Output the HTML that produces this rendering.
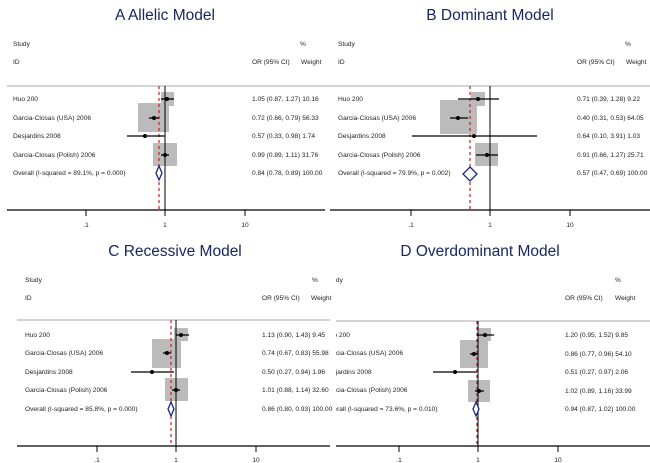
<!DOCTYPE html>
<html><head><meta charset="utf-8"><style>
html,body{margin:0;padding:0;background:#fff;}
svg{display:block;}
text{font-family:"Liberation Sans",sans-serif;}
.s{font-size:6.6px;fill:#222;}
.t{font-size:15.5px;fill:#1a2660;}
</style></head><body>
<svg width="650" height="463" viewBox="0 0 650 463" xmlns="http://www.w3.org/2000/svg">
<defs><clipPath id="cd"><rect x="336" y="230" width="314" height="233"/></clipPath></defs>

<!-- Panel A -->
<text class="t" x="165" y="20" text-anchor="middle">A  Allelic Model</text>
<text class="s" x="13" y="46">Study</text><text class="s" x="300" y="46">%</text>
<text class="s" x="13" y="64">ID</text><text class="s" x="252" y="64">OR (95% CI)</text><text class="s" x="301" y="64">Weight</text>
<line x1="7" y1="86" x2="325" y2="86" stroke="#aaa" stroke-width="1"/>
<rect x="161" y="92" width="13" height="14" fill="#bbb"/>
<rect x="138" y="103" width="31" height="29" fill="#bbb"/>
<rect x="153" y="143" width="24" height="23" fill="#bbb"/>
<line x1="159" y1="86" x2="159" y2="210" stroke="#b22" stroke-width="1.2" stroke-dasharray="3,3"/>
<line x1="165" y1="86" x2="165" y2="210" stroke="#000" stroke-width="1"/>
<line x1="161" y1="99" x2="174" y2="99" stroke="#000" stroke-width="1.3"/><circle cx="167" cy="99" r="2" fill="#000"/>
<line x1="149" y1="118" x2="159" y2="118" stroke="#000" stroke-width="1.3"/><circle cx="154" cy="118" r="2" fill="#000"/>
<line x1="127" y1="136" x2="165" y2="136" stroke="#000" stroke-width="1.3"/><circle cx="145" cy="136" r="2" fill="#000"/>
<line x1="161" y1="155" x2="169" y2="155" stroke="#000" stroke-width="1.3"/><circle cx="165" cy="155" r="2" fill="#000"/>
<polygon points="159,166 162,173 159,180 156,173" fill="#fff" stroke="#1a2680" stroke-width="1.3"/>
<text class="s" x="13" y="101">Huo 200</text><text class="s" x="252" y="101">1.05 (0.87, 1.27) 10.16</text>
<text class="s" x="13" y="120">Garcia-Closas (USA) 2006</text><text class="s" x="252" y="120">0.72 (0.66, 0.79) 56.33</text>
<text class="s" x="13" y="138">Desjardins 2008</text><text class="s" x="252" y="138">0.57 (0.33, 0.98) 1.74</text>
<text class="s" x="13" y="157">Garcia-Closas (Polish) 2006</text><text class="s" x="252" y="157">0.99 (0.89, 1.11) 31.76</text>
<text class="s" x="13" y="175">Overall  (I-squared = 89.1%, p = 0.000)</text><text class="s" x="252" y="175">0.84 (0.78, 0.89) 100.00</text>
<line x1="7" y1="210" x2="325" y2="210" stroke="#000" stroke-width="1.3"/>
<line x1="86" y1="210" x2="86" y2="216" stroke="#000"/><line x1="165" y1="210" x2="165" y2="216" stroke="#000"/><line x1="245" y1="210" x2="245" y2="216" stroke="#000"/>
<text class="s" x="86" y="227" text-anchor="middle">.1</text><text class="s" x="165" y="227" text-anchor="middle">1</text><text class="s" x="245" y="227" text-anchor="middle">10</text>

<!-- Panel B -->
<text class="t" x="490" y="20" text-anchor="middle">B  Dominant Model</text>
<text class="s" x="338" y="46">Study</text><text class="s" x="625" y="46">%</text>
<text class="s" x="338" y="64">ID</text><text class="s" x="577" y="64">OR (95% CI)</text><text class="s" x="626" y="64">Weight</text>
<line x1="325" y1="86" x2="650" y2="86" stroke="#aaa" stroke-width="1"/>
<rect x="471" y="92" width="14" height="14" fill="#bbb"/>
<rect x="440" y="100" width="37" height="34" fill="#bbb"/>
<rect x="475" y="143" width="23" height="23" fill="#bbb"/>
<line x1="470" y1="86" x2="470" y2="210" stroke="#b22" stroke-width="1.2" stroke-dasharray="3,3"/>
<line x1="490" y1="86" x2="490" y2="210" stroke="#000" stroke-width="1"/>
<line x1="458" y1="99" x2="499" y2="99" stroke="#000" stroke-width="1.3"/><circle cx="478" cy="99" r="2" fill="#000"/>
<line x1="450" y1="118" x2="468" y2="118" stroke="#000" stroke-width="1.3"/><circle cx="458" cy="118" r="2" fill="#000"/>
<line x1="412" y1="136" x2="537" y2="136" stroke="#000" stroke-width="1.3"/><circle cx="474" cy="136" r="2" fill="#000"/>
<line x1="476" y1="155" x2="498" y2="155" stroke="#000" stroke-width="1.3"/><circle cx="487" cy="155" r="2" fill="#000"/>
<polygon points="470,167 477,174 470,181 463,174" fill="#fff" stroke="#1a2680" stroke-width="1.3"/>
<text class="s" x="338" y="101">Huo 200</text><text class="s" x="577" y="101">0.71 (0.39, 1.28) 9.22</text>
<text class="s" x="338" y="120">Garcia-Closas (USA) 2006</text><text class="s" x="577" y="120">0.40 (0.31, 0.53) 64.05</text>
<text class="s" x="338" y="138">Desjardins 2008</text><text class="s" x="577" y="138">0.64 (0.10, 3.91) 1.03</text>
<text class="s" x="338" y="157">Garcia-Closas (Polish) 2006</text><text class="s" x="577" y="157">0.91 (0.66, 1.27) 25.71</text>
<text class="s" x="338" y="175">Overall  (I-squared = 79.9%, p = 0.002)</text><text class="s" x="577" y="175">0.57 (0.47, 0.69) 100.00</text>
<line x1="330" y1="210" x2="650" y2="210" stroke="#000" stroke-width="1.3"/>
<line x1="411" y1="210" x2="411" y2="216" stroke="#000"/><line x1="490" y1="210" x2="490" y2="216" stroke="#000"/><line x1="570" y1="210" x2="570" y2="216" stroke="#000"/>
<text class="s" x="411" y="227" text-anchor="middle">.1</text><text class="s" x="490" y="227" text-anchor="middle">1</text><text class="s" x="570" y="227" text-anchor="middle">10</text>

<!-- Panel C -->
<text class="t" x="175" y="256" text-anchor="middle">C  Recessive Model</text>
<text class="s" x="25" y="282">Study</text><text class="s" x="312" y="282">%</text>
<text class="s" x="25" y="300">ID</text><text class="s" x="262" y="300">OR (95% CI)</text><text class="s" x="311" y="300">Weight</text>
<line x1="17" y1="320" x2="330" y2="320" stroke="#aaa" stroke-width="1"/>
<rect x="174" y="328" width="14" height="13" fill="#bbb"/>
<rect x="152" y="339" width="29" height="29" fill="#bbb"/>
<rect x="165" y="378" width="23" height="23" fill="#bbb"/>
<line x1="171" y1="320" x2="171" y2="446" stroke="#b22" stroke-width="1.2" stroke-dasharray="3,3"/>
<line x1="176" y1="320" x2="176" y2="446" stroke="#000" stroke-width="1"/>
<line x1="176" y1="335" x2="189" y2="335" stroke="#000" stroke-width="1.3"/><circle cx="181" cy="335" r="2" fill="#000"/>
<line x1="163" y1="353" x2="171" y2="353" stroke="#000" stroke-width="1.3"/><circle cx="167" cy="353" r="2" fill="#000"/>
<line x1="131" y1="372" x2="174" y2="372" stroke="#000" stroke-width="1.3"/><circle cx="152" cy="372" r="2" fill="#000"/>
<line x1="172" y1="390" x2="180" y2="390" stroke="#000" stroke-width="1.3"/><circle cx="176" cy="390" r="2" fill="#000"/>
<polygon points="171,402 174,409 171,416 168,409" fill="#fff" stroke="#1a2680" stroke-width="1.3"/>
<text class="s" x="25" y="337">Huo 200</text><text class="s" x="262" y="337">1.13 (0.90, 1.43) 9.45</text>
<text class="s" x="25" y="355">Garcia-Closas (USA) 2006</text><text class="s" x="262" y="355">0.74 (0.67, 0.83) 55.98</text>
<text class="s" x="25" y="374">Desjardins 2008</text><text class="s" x="262" y="374">0.50 (0.27, 0.94) 1.96</text>
<text class="s" x="25" y="392">Garcia-Closas (Polish) 2006</text><text class="s" x="262" y="392">1.01 (0.88, 1.14) 32.60</text>
<text class="s" x="25" y="411">Overall  (I-squared = 85.8%, p = 0.000)</text><text class="s" x="262" y="411">0.86 (0.80, 0.93) 100.00</text>
<line x1="17" y1="446" x2="330" y2="446" stroke="#000" stroke-width="1.3"/>
<line x1="97" y1="446" x2="97" y2="452" stroke="#000"/><line x1="176" y1="446" x2="176" y2="452" stroke="#000"/><line x1="256" y1="446" x2="256" y2="452" stroke="#000"/>
<text class="s" x="97" y="462" text-anchor="middle">.1</text><text class="s" x="176" y="462" text-anchor="middle">1</text><text class="s" x="256" y="462" text-anchor="middle">10</text>

<!-- Panel D -->
<text class="t" x="480" y="256" text-anchor="middle">D  Overdominant Model</text>
<g clip-path="url(#cd)">
<text class="s" x="326" y="282">Study</text>
<text class="s" x="326" y="300">ID</text>
<text class="s" x="325" y="337">Huo 200</text>
<text class="s" x="325" y="355">Garcia-Closas (USA) 2006</text>
<text class="s" x="324" y="374">Desjardins 2008</text>
<text class="s" x="325" y="392">Garcia-Closas (Polish) 2006</text>
<text class="s" x="325" y="411">Overall  (I-squared = 73.6%, p = 0.010)</text>
<line x1="336" y1="321" x2="650" y2="321" stroke="#aaa" stroke-width="1"/>
<line x1="336" y1="446" x2="650" y2="446" stroke="#000" stroke-width="1.3"/>
</g>
<text class="s" x="615" y="282">%</text>
<text class="s" x="565" y="300">OR (95% CI)</text><text class="s" x="615" y="300">Weight</text>
<rect x="478" y="328" width="13" height="13" fill="#bbb"/>
<rect x="460" y="340" width="28" height="28" fill="#bbb"/>
<rect x="468" y="380" width="22" height="22" fill="#bbb"/>
<line x1="477" y1="321" x2="477" y2="446" stroke="#b22" stroke-width="1.2" stroke-dasharray="3,3"/>
<line x1="478" y1="321" x2="478" y2="446" stroke="#000" stroke-width="1"/>
<line x1="477" y1="335" x2="494" y2="335" stroke="#000" stroke-width="1.3"/><circle cx="485" cy="335" r="2" fill="#000"/>
<line x1="470" y1="354" x2="478" y2="354" stroke="#000" stroke-width="1.3"/><circle cx="474" cy="354" r="2" fill="#000"/>
<line x1="433" y1="372" x2="477" y2="372" stroke="#000" stroke-width="1.3"/><circle cx="455" cy="372" r="2" fill="#000"/>
<line x1="475" y1="391" x2="484" y2="391" stroke="#000" stroke-width="1.3"/><circle cx="479" cy="391" r="2" fill="#000"/>
<polygon points="476,402 479,409 476,416 473,409" fill="#fff" stroke="#1a2680" stroke-width="1.3"/>
<text class="s" x="565" y="337">1.20 (0.95, 1.52) 9.85</text>
<text class="s" x="565" y="356">0.86 (0.77, 0.96) 54.10</text>
<text class="s" x="565" y="374">0.51 (0.27, 0.97) 2.06</text>
<text class="s" x="565" y="393">1.02 (0.89, 1.16) 33.99</text>
<text class="s" x="565" y="411">0.94 (0.87, 1.02) 100.00</text>
<line x1="399" y1="446" x2="399" y2="452" stroke="#000"/><line x1="478" y1="446" x2="478" y2="452" stroke="#000"/><line x1="558" y1="446" x2="558" y2="452" stroke="#000"/>
<text class="s" x="399" y="462" text-anchor="middle">.1</text><text class="s" x="478" y="462" text-anchor="middle">1</text><text class="s" x="558" y="462" text-anchor="middle">10</text>
</svg>
</body></html>
